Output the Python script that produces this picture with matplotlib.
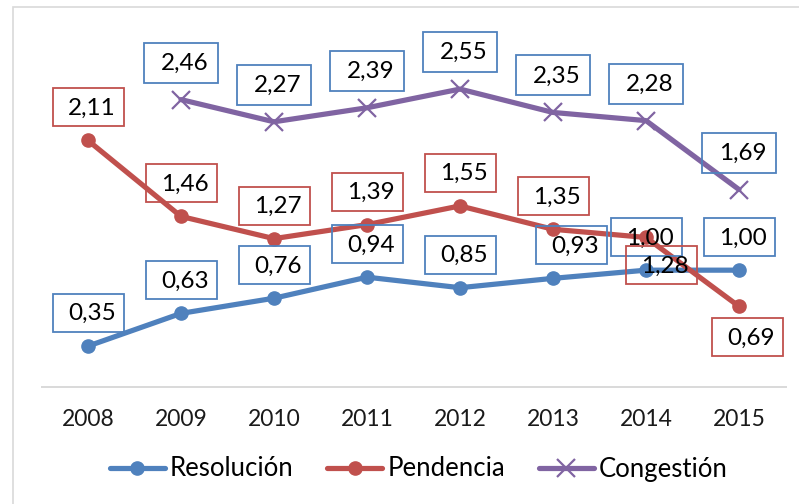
import numpy as np
import matplotlib
matplotlib.use("Agg")
import matplotlib.pyplot as plt
from matplotlib.patches import Rectangle
from matplotlib.text import Text
from matplotlib.offsetbox import DrawingArea, AnnotationBbox

years = ["2008", "2009", "2010", "2011", "2012", "2013", "2014", "2015"]
resolucion = [0.35, 0.63, 0.76, 0.94, 0.85, 0.93, 1.00, 1.00]
pendencia = [2.11, 1.46, 1.27, 1.39, 1.55, 1.35, 1.28, 0.69]
congestion = [np.nan, 2.46, 2.27, 2.39, 2.55, 2.35, 2.28, 1.69]

BLUE = "#4F81BD"
RED = "#C0504D"
PURPLE = "#8064A2"
FONT = "Lato"

plt.rcParams["font.family"] = [FONT, "DejaVu Sans"]

fig = plt.figure(figsize=(7.99, 5.04), dpi=100)
W, H = 799, 504
ax = fig.add_axes([41.5 / W, 1 - 387 / H, 744 / W, (387 - 36.5) / H])

# outer light frame
fig.patches.append(Rectangle((13 / W, -0.1), 1.2, 1 - 7 / H + 0.1,
                             transform=fig.transFigure, fill=False,
                             ec="#D9D9D9", lw=1.2))

x = np.arange(len(years))
ax.plot(x, resolucion, color=BLUE, lw=3.75, marker="o", ms=9.5,
        solid_capstyle="round", label="Resolución", zorder=3)
ax.plot(x, pendencia, color=RED, lw=3.75, marker="o", ms=9.5,
        solid_capstyle="round", label="Pendencia", zorder=3)
ax.plot(x, congestion, color=PURPLE, lw=3.75, marker="x", ms=13, mew=1.6,
        solid_capstyle="round", label="Congestión", zorder=3)

ax.set_xlim(-0.5, len(years) - 0.5)
ax.set_ylim(0, 3.0)
ax.set_xticks(x)
ax.set_xticklabels(years, fontsize=16.5, color="#1a1a1a")
ax.tick_params(axis="x", length=0, pad=16)
ax.set_yticks([])
for s in ["left", "right", "top"]:
    ax.spines[s].set_visible(False)
ax.spines["bottom"].set_color("#D9D9D9")
ax.spines["bottom"].set_linewidth(1.4)

PX = 72.0 / 100  # points per pixel


def label_box(xi, yv, txt, ec, dx_px, dy_px, w_px=71, h_px=38):
    w, h = w_px * PX, h_px * PX
    da = DrawingArea(w, h, 0, 0)
    da.add_artist(Rectangle((0, 0), w, h, fc="none", ec=ec, lw=1.3))
    da.add_artist(Text(w / 2 + 3, h / 2 - 0.5, txt, ha="center", va="center",
                       fontsize=17.5, family=FONT, color="black"))
    ab = AnnotationBbox(da, (xi, yv), xybox=(dx_px * PX, dy_px * PX),
                        boxcoords="offset points", frameon=False, pad=0,
                        box_alignment=(0.5, 0.5), zorder=4)
    ax.add_artist(ab)


def fmt(v):
    return f"{v:.2f}".replace(".", ",")


for i, v in enumerate(resolucion):
    dx = 18 if i == 5 else 0
    label_box(i, v, fmt(v), BLUE, dx, 33)

for i, v in enumerate(pendencia):
    if i == 6:
        label_box(i, v, fmt(v), RED, 15, -28)
    elif i == 7:
        label_box(i, v, fmt(v), RED, 8, -31)
    else:
        label_box(i, v, fmt(v), RED, 0, 33)

for i, v in enumerate(congestion):
    if np.isnan(v):
        continue
    label_box(i, v, fmt(v), BLUE, 0, 37, w_px=74, h_px=40)

fig.legend(loc="center", bbox_to_anchor=(0.524, 1 - 469 / H), ncol=3,
           frameon=False, fontsize=18.5, handlelength=2.15, handletextpad=0.2,
           columnspacing=1.3)

fig.savefig("out.png", dpi=100)
